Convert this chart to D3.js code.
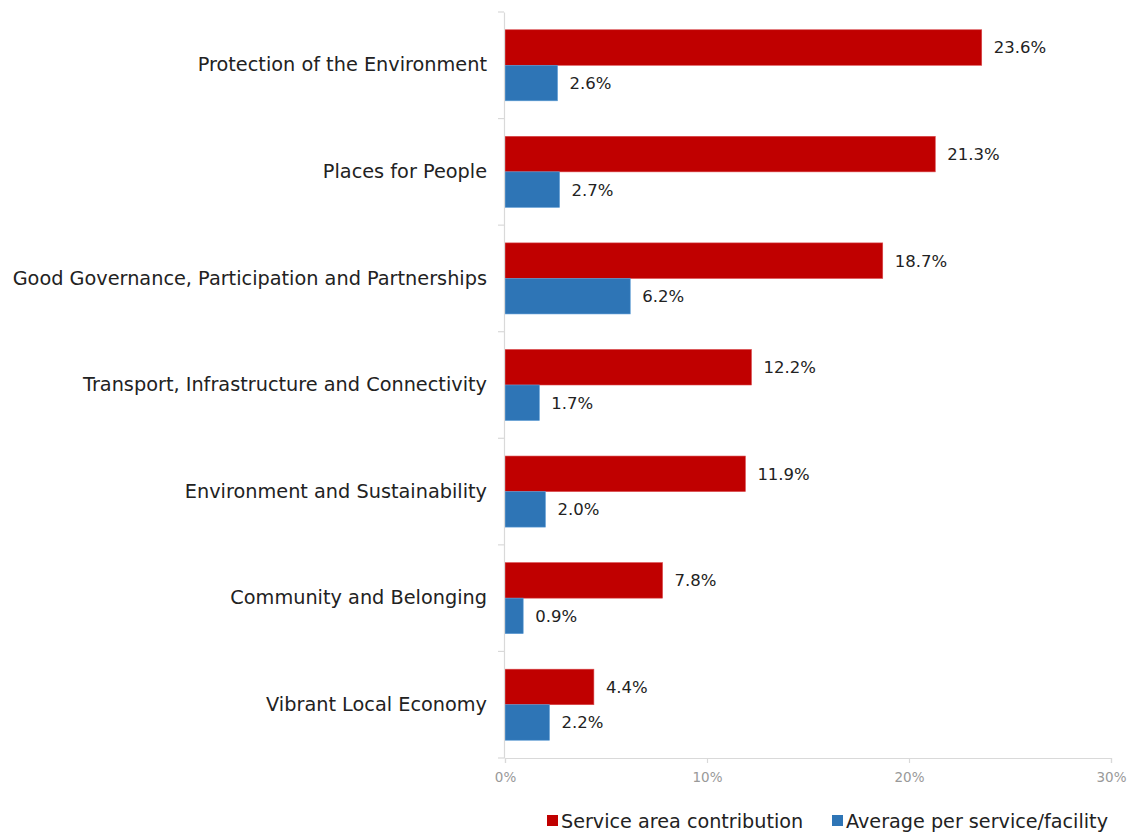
<!DOCTYPE html>
<html>
<head>
<meta charset="utf-8">
<script src="https://cdn.jsdelivr.net/npm/d3@7"></script>
<style>
  body { margin: 0; background: #fff; }
  svg { display: block; font-family: "DejaVu Sans", sans-serif; }
</style>
</head>
<body>
<svg id="chart" width="1130" height="832"></svg>
<script>
// Categories, top to bottom
const categories = [
  "Protection of the Environment",
  "Places for People",
  "Good Governance, Participation and Partnerships",
  "Transport, Infrastructure and Connectivity",
  "Environment and Sustainability",
  "Community and Belonging",
  "Vibrant Local Economy"
];
// Share of the overall contribution by service area (%)
const serviceAreaContribution = [23.6, 21.3, 18.7, 12.2, 11.9, 7.8, 4.4];
// Average contribution per service/facility (%)
const averagePerService = [2.6, 2.7, 6.2, 1.7, 2.0, 0.9, 2.2];
const seriesNames = ["Service area contribution", "Average per service/facility"];
const xTicks = [0, 10, 20, 30];

const colors = ["#C00000", "#2E75B6"];
const edgeColors = ["#D9474A", "#5B9BD5"];
const series = [serviceAreaContribution, averagePerService];

const svg = d3.select("#chart");
const margin = { left: 505, right: 19, top: 12, bottom: 74 };
const W = 1130, H = 832;

const x = d3.scaleLinear().domain([0, 30]).range([margin.left, W - margin.right]);
const y = d3.scaleBand().domain(categories).range([margin.top, H - margin.bottom]).paddingInner(0).paddingOuter(0);
const inner = d3.scaleBand().domain([0, 1]).range([0, y.bandwidth()]).paddingInner(0).paddingOuter(0.5);

// Bars and value labels
series.forEach((vals, si) => {
  const g = svg.append("g");
  g.selectAll("rect").data(categories).join("rect")
    .attr("x", x(0))
    .attr("y", c => y(c) + inner(si))
    .attr("width", (c, i) => x(vals[i]) - x(0))
    .attr("height", inner.bandwidth())
    .attr("fill", colors[si])
    .attr("stroke", edgeColors[si])
    .attr("stroke-width", 0.6);
  g.selectAll("text").data(categories).join("text")
    .attr("x", (c, i) => x(vals[i]) + 12)
    .attr("y", c => y(c) + inner(si) + inner.bandwidth() / 2)
    .attr("dy", "0.36em")
    .attr("font-size", 16.5)
    .attr("fill", "#222")
    .text((c, i) => vals[i].toFixed(1) + "%");
});

// Category axis
const yAxis = svg.append("g")
  .attr("transform", `translate(${x(0) - 1},0)`)
  .call(d3.axisLeft(y).tickSize(0).tickPadding(17));
yAxis.select(".domain").attr("stroke", "#d9d9d9").attr("stroke-width", 1.2);
yAxis.selectAll("text").attr("font-size", 19.3).attr("fill", "#222")
  .attr("font-family", "DejaVu Sans, sans-serif");
// separator ticks between categories
const bounds = categories.map(c => y(c)).concat([y.range()[1]]);
yAxis.selectAll(".sep").data(bounds).join("line")
  .attr("class", "sep")
  .attr("x1", -6).attr("x2", 0)
  .attr("y1", d => d).attr("y2", d => d)
  .attr("stroke", "#d9d9d9").attr("stroke-width", 1.2);

// Value axis
const xAxis = svg.append("g")
  .attr("transform", `translate(0,${H - margin.bottom})`)
  .call(d3.axisBottom(x).tickValues(xTicks).tickSize(5).tickPadding(9).tickFormat(d => d + "%"));
xAxis.select(".domain").attr("stroke", "#d9d9d9").attr("stroke-width", 1.2);
xAxis.selectAll(".tick line").attr("stroke", "#d9d9d9").attr("stroke-width", 1.2);
xAxis.selectAll("text").attr("font-size", 13.5).attr("fill", "#999")
  .attr("font-family", "DejaVu Sans, sans-serif");

// Legend
const legendItems = [
  { name: seriesNames[0], color: colors[0], x: 547 },
  { name: seriesNames[1], color: colors[1], x: 832 }
];
const lg = svg.append("g");
legendItems.forEach(d => {
  lg.append("rect").attr("x", d.x).attr("y", 815).attr("width", 11).attr("height", 11).attr("fill", d.color);
  lg.append("text").attr("x", d.x + 14).attr("y", 821).attr("dy", "0.36em")
    .attr("font-size", 19.2).attr("fill", "#222").text(d.name);
});
</script>
</body>
</html>
